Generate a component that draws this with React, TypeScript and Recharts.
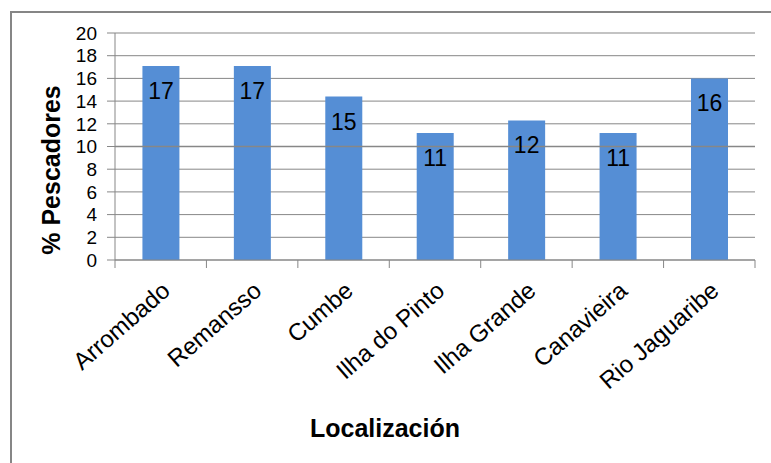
import React from "react";
import { BarChart, Bar, XAxis, YAxis, CartesianGrid, LabelList, ReferenceLine } from "recharts";

const categories = ["Arrombado", "Remansso", "Cumbe", "Ilha do Pinto", "Ilha Grande", "Canavieira", "Rio Jaguaribe"];
const values = [17.1, 17.1, 14.4, 11.2, 12.3, 11.2, 16.0];
const valueLabels = ["17", "17", "15", "11", "12", "11", "16"];
const yTicks = [0, 2, 4, 6, 8, 10, 12, 14, 16, 18, 20];
const xTitle = "Localización";
const yTitle = "% Pescadores";

const data = categories.map((c, i) => ({ name: c, value: values[i], label: valueLabels[i] }));

const W = 771;
const H = 463;
const M = { top: 33, right: 16, bottom: 0, left: 0 };
const Y_AXIS_W = 115;
const X_AXIS_H = 203;
const BAND = (W - M.right - M.left - Y_AXIS_W) / categories.length;
const FONT = "'Liberation Sans', Arial, sans-serif";
const GRID = "#878787";

const CategoryTick = (props: any) => {
  const { x, y, payload, index } = props;
  const half = BAND / 2;
  const tx = x + 11;
  const ty = y + 33;
  return (
    <g>
      <line x1={x - half} y1={y} x2={x - half} y2={y + 8} stroke={GRID} strokeWidth={1} />
      {index === categories.length - 1 && (
        <line x1={x + half} y1={y} x2={x + half} y2={y + 8} stroke={GRID} strokeWidth={1} />
      )}
      <text
        x={tx}
        y={ty}
        transform={`rotate(-41 ${tx} ${ty})`}
        textAnchor="end"
        fontFamily={FONT}
        fontSize={24}
        fill="#000"
      >
        {payload.value}
      </text>
    </g>
  );
};

const ValueLabel = (props: any) => {
  const { x, y, width, index } = props;
  return (
    <text
      x={x + width / 2}
      y={y + 33}
      textAnchor="middle"
      fontFamily={FONT}
      fontSize={23}
      fill="#000"
    >
      {valueLabels[index]}
    </text>
  );
};

export default function App() {
  return (
    <div style={{ position: "fixed", left: 0, top: 0, width: W, height: H, overflow: "hidden", background: "#fff" }}>
      <div
        style={{
          position: "absolute",
          left: 10,
          top: 11,
          width: 800,
          height: 500,
          border: "2px solid #868686",
          boxSizing: "border-box",
        }}
      />
      <div style={{ position: "absolute", left: 0, top: 0 }}>
        <BarChart width={W} height={H} data={data} margin={M} barCategoryGap="30%">
          <CartesianGrid vertical={false} stroke={GRID} strokeWidth={1} />
          <ReferenceLine y={10} stroke={GRID} strokeWidth={1.6} />
          <XAxis
            dataKey="name"
            interval={0}
            height={X_AXIS_H}
            tickSize={0}
            tickMargin={0}
            tickLine={false}
            axisLine={{ stroke: GRID, strokeWidth: 1 }}
            tick={<CategoryTick />}
            label={{
              content: () => (
                <text x={385} y={437} textAnchor="middle" fontFamily={FONT} fontSize={25} fontWeight="bold" fill="#000">
                  {xTitle}
                </text>
              ),
            }}
          />
          <YAxis
            width={Y_AXIS_W}
            domain={[0, 20]}
            ticks={yTicks}
            interval={0}
            tickSize={8}
            tickMargin={10}
            tickLine={{ stroke: GRID }}
            axisLine={{ stroke: GRID, strokeWidth: 1 }}
            tick={{ fontFamily: FONT, fontSize: 19, fill: "#000" }}
            label={{
              content: () => (
                <text
                  x={60}
                  y={170}
                  transform="rotate(-90 60 170)"
                  textAnchor="middle"
                  fontFamily={FONT}
                  fontSize={25}
                  fontWeight="bold"
                  fill="#000"
                >
                  {yTitle}
                </text>
              ),
            }}
          />
          <Bar dataKey="value" fill="#558ED5" isAnimationActive={false}>
            <LabelList dataKey="label" content={<ValueLabel />} />
          </Bar>
        </BarChart>
      </div>
    </div>
  );
}
